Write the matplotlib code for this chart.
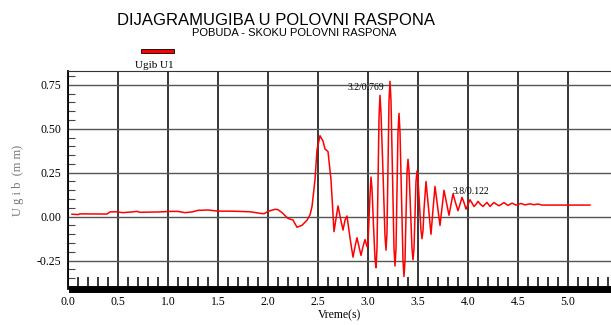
import matplotlib
matplotlib.use("Agg")
import matplotlib.pyplot as plt
from matplotlib.ticker import MultipleLocator
from matplotlib.patches import Rectangle

# (time in s, deflection)
time_s = [0.04, 0.10, 0.12, 0.39, 0.42, 0.47, 0.55, 0.64, 0.69, 0.72, 0.92, 1.02, 1.10,
          1.17, 1.24, 1.30, 1.40, 1.49, 1.65, 1.82, 1.92, 1.96, 2.00, 2.07, 2.10, 2.14,
          2.20, 2.25, 2.29, 2.34, 2.39, 2.42, 2.44, 2.47, 2.49, 2.52, 2.55, 2.57, 2.60,
          2.63, 2.66, 2.68, 2.70, 2.725, 2.75, 2.77, 2.79, 2.82, 2.85, 2.87, 2.89, 2.91,
          2.93, 2.95, 2.97, 2.99, 3.00, 3.02, 3.03, 3.04, 3.055, 3.07, 3.08, 3.09, 3.10,
          3.11, 3.12, 3.13, 3.15, 3.17, 3.18, 3.19, 3.20, 3.21, 3.22, 3.23, 3.245, 3.26,
          3.27, 3.28, 3.29, 3.30, 3.31, 3.32, 3.335, 3.35, 3.36, 3.37, 3.38, 3.39, 3.40,
          3.41, 3.425, 3.44, 3.45, 3.46, 3.47, 3.48, 3.49, 3.50, 3.515, 3.53, 3.54, 3.55,
          3.56, 3.58, 3.605, 3.63, 3.65, 3.67, 3.695, 3.72, 3.74, 3.76, 3.785,
          3.81, 3.83, 3.85, 3.875, 3.90, 3.92, 3.94, 3.96, 3.98, 4.00, 4.02, 4.04, 4.06,
          4.08, 4.10, 4.125, 4.15, 4.17, 4.19, 4.205, 4.22, 4.24, 4.26, 4.28, 4.31, 4.36,
          4.40, 4.44, 4.48, 4.53, 4.57, 4.62, 4.66, 4.70, 4.74, 5.22]
ugib = [0.014, 0.012, 0.016, 0.015, 0.027, 0.028, 0.023, 0.027, 0.030, 0.025, 0.027, 0.030,
        0.030, 0.023, 0.027, 0.036, 0.038, 0.032, 0.031, 0.028, 0.019, 0.017, 0.030, 0.042,
        0.040, 0.023, -0.010, -0.019, -0.060, -0.049, -0.020, 0.010, 0.057, 0.210, 0.380,
        0.460, 0.430, 0.385, 0.370, 0.210, -0.085, -0.010, 0.061, -0.010, -0.076, -0.020,
        0.004, -0.120, -0.230, -0.170, -0.120, -0.170, -0.220, -0.170, -0.130, -0.170,
        -0.150, 0.120, 0.225, 0.160, -0.050, -0.240, -0.290, -0.180, 0.200,
        0.560, 0.690, 0.590, 0.250, -0.110, -0.190, -0.090, 0.300,
        0.660, 0.769, 0.660, 0.250, -0.180,
        -0.280, -0.180, 0.150, 0.480, 0.587, 0.480, 0.120, -0.250,
        -0.340, -0.250, 0.000, 0.250, 0.326,
        0.260, 0.040, -0.180, -0.245, -0.180, 0.010, 0.200, 0.260, 0.210, 0.070, -0.080,
        -0.125, -0.080, 0.040, 0.200, 0.050, -0.100, 0.040, 0.172, 0.060, -0.050, 0.050,
        0.150, 0.080, 0.008, 0.070, 0.130, 0.080, 0.034, 0.070, 0.110, 0.080, 0.043, 0.070,
        0.096, 0.078, 0.058, 0.070, 0.087, 0.070, 0.058, 0.070, 0.081, 0.070, 0.058, 0.070,
        0.081, 0.072, 0.062, 0.080, 0.064, 0.077, 0.066, 0.075, 0.067, 0.073, 0.068, 0.072,
        0.066, 0.066]

notes = ["3.2/0.769", "3.8/0.122"]
note_x = [2.98, 3.85]
note_y = [0.737, 0.142]
x_ticks = [0.0, 0.5, 1.0, 1.5, 2.0, 2.5, 3.0, 3.5, 4.0, 4.5, 5.0]
y_ticks = [-0.25, 0.0, 0.25, 0.5, 0.75]

serif = "Liberation Serif"

fig = plt.figure(figsize=(6.11, 3.25), dpi=100)
ax = fig.add_axes([68 / 611, 1 - 289 / 325, 1 - 68 / 611, (289 - 71) / 325])

ax.plot(time_s, ugib, color="red", lw=1.1, zorder=3)

ax.set_xlim(0, 5.43)
ax.set_ylim(-0.411, 0.828)

ax.set_xticks(x_ticks)
ax.set_yticks(y_ticks)
ax.xaxis.set_minor_locator(MultipleLocator(0.1))
ax.yaxis.set_minor_locator(MultipleLocator(0.05))
ax.set_xticklabels([f"{v:.1f}" for v in x_ticks], family=serif, fontsize=8.5)
ax.set_yticklabels([f"{v:.2f}" for v in y_ticks], family=serif, fontsize=8.5)
ax.tick_params(which="major", direction="in", length=0, pad=5)
ax.tick_params(axis="x", which="minor", direction="in", length=9, width=1.1, color="black")
ax.tick_params(axis="y", which="minor", direction="in", length=5, width=0.8, color="#444444")

for v in x_ticks:
    ax.axvline(v, color="black", lw=1.1, zorder=1)
for v in y_ticks:
    ax.axhline(v, color="#555555", lw=1.0, zorder=1)

ax.spines["right"].set_visible(False)
ax.spines["top"].set_color("#333333")
ax.spines["left"].set_linewidth(1.3)
ax.spines["bottom"].set_linewidth(5)
ax.spines["bottom"].set_bounds(0.04, 5.43)

ax.set_xlabel("Vreme(s)", family=serif, fontsize=8.5, labelpad=1)
ax.set_ylabel("U g i b  (m m)", family=serif, fontsize=9, color="#777777", labelpad=9)

ax.text(note_x[0], note_y[0], notes[0], family=serif, fontsize=7, ha="center", va="center")
ax.text(note_x[1], note_y[1], notes[1], family=serif, fontsize=7, ha="left", va="center")

fig.text(0.452, 0.938, "DIJAGRAMUGIBA U POLOVNI RASPONA",
         family=["Liberation Sans Narrow", "Liberation Sans"], fontsize=12, ha="center", va="center")
fig.text(0.482, 0.897, "POBUDA - SKOKU POLOVNI RASPONA",
         family=["Liberation Sans Narrow", "Liberation Sans"], fontsize=8, ha="center", va="center")

fig.patches.append(Rectangle((141 / 611, 1 - 53 / 325), 33 / 611, 4 / 325,
                             transform=fig.transFigure, facecolor="red",
                             edgecolor="black", lw=0.6, figure=fig))
fig.text(154 / 611, 1 - 66 / 325, "Ugib U1", family=serif, fontsize=8, ha="center", va="center")

fig.savefig("out.png", dpi=100)
